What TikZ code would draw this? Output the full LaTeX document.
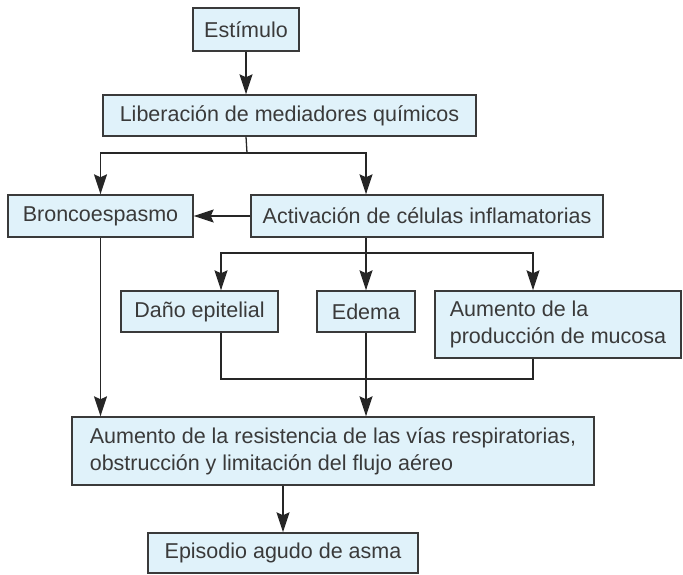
\documentclass[tikz,border=0pt]{standalone}
\usepackage{fontspec}
\setmainfont{Liberation Sans}
\usepackage{tikz}
\usetikzlibrary{arrows.meta}
\definecolor{boxblue}{HTML}{E0F2FA}
\definecolor{inkgray}{HTML}{3A3A3A}
\tikzset{
  stepbox/.style={draw=inkgray, fill=boxblue, line width=1.4pt,
    inner xsep=0pt, inner ysep=10pt, minimum height=41pt,
    text=inkgray, font=\fontsize{21.5}{27}\selectfont, align=left},
  link/.style={line width=1.3pt, draw=black!85},
  flow/.style={link, -{Stealth[length=20pt,width=13pt,inset=3pt]}}
}

\begin{document}
\begin{tikzpicture}[x=1pt, y=-1pt]

    % page frame
    \useasboundingbox (0,0) rectangle (683,575);

    % boxes
    \node[stepbox, minimum width=106pt, minimum height=43pt] (stim) at (246,29.5) {Estímulo};
    \node[stepbox, minimum width=373pt] (lib) at (289.5,115.5) {Liberación de mediadores químicos};
    \node[stepbox, minimum width=185pt, minimum height=42pt] (bronco) at (100.5,216) {Broncoespasmo};
    \node[stepbox, minimum width=352pt, minimum height=42pt] (activ) at (427,216) {Activación de células inflamatorias};
    \node[stepbox, minimum width=157pt] (dano) at (199.5,311.5) {Daño epitelial};
    \node[stepbox, minimum width=98pt] (edema) at (366,311.5) {Edema};
    \node[stepbox, minimum width=246pt, minimum height=67pt] (mucosa) at (558,324.5)
      {Aumento de la\\producción de mucosa};
    \node[stepbox, minimum width=522pt, minimum height=68pt] (resist) at (333,451)
      {Aumento de la resistencia de las vías respiratorias,\\obstrucción y limitación del flujo aéreo};
    \node[stepbox, minimum width=270pt, minimum height=40pt] (episodio) at (283,553) {Episodio agudo de asma};

    % branch points
    \coordinate (forkA) at (247,153);
    \coordinate (forkB) at (366,253);
    \coordinate (joinB) at (366,379);

    % arrows
    \draw[flow] (stim.south) -- (stim.south |- lib.north);
    \draw[link] (stim.south |- lib.south) -- (forkA);
    \draw[flow] (forkA) -| (bronco.north);
    \draw[flow] (forkA) -| (forkB |- activ.north);
    \draw[flow] (activ.west) -- (bronco.east);
    \draw[link] (forkB |- activ.south) -- (forkB);
    \draw[flow] (forkB) -| ([xshift=21.5pt]dano.north);
    \draw[flow] (forkB) -- (edema.north);
    \draw[flow] (forkB) -| ([xshift=-25pt]mucosa.north);
    \draw[link] ([xshift=21.5pt]dano.south) |- (joinB) -| ([xshift=-25pt]mucosa.south);
    \draw[flow] (edema.south) -- (edema.south |- resist.north);
    \draw[flow] (bronco.south) -- (bronco.south |- resist.north);
    \draw[flow] (episodio.north |- resist.south) -- (episodio.north);

\end{tikzpicture}
\end{document}
